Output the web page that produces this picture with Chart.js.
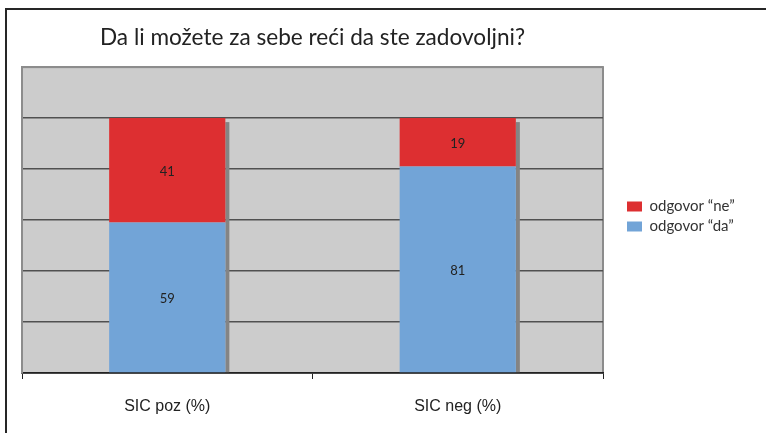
<!DOCTYPE html>
<html>
<head>
<meta charset="utf-8">
<script src="https://cdn.jsdelivr.net/npm/chart.js@4"></script>
<style>
  html, body { margin: 0; padding: 0; background: #fff; }
  #wrap { position: relative; width: 766px; height: 433px; }
  #frame { position: absolute; left: 5px; top: 8px; right: -2px; bottom: -2px; border-top: 2px solid #262626; border-left: 2px solid #262626; pointer-events: none; }
  canvas { position: absolute; left: 0; top: 0; }
</style>
</head>
<body>
<div id="wrap">
  <canvas id="c" width="766" height="433"></canvas>
  <div id="frame"></div>
</div>
<script>
const titleText = 'Da li možete za sebe reći da ste zadovoljni?';
const categories = ['SIC poz (%)', 'SIC neg (%)'];
const seriesDa = [59, 81];
const seriesNe = [41, 19];
const labelDa = 'odgovor \u201Cda\u201D';
const labelNe = 'odgovor \u201Cne\u201D';
const yMin = 0, yMax = 120, yStep = 20;

const FONT = 'Lato, "Liberation Sans", sans-serif';
const TICKFONT = '"Liberation Sans", Arial, sans-serif';

const plotFrame = {
  id: 'plotFrame',
  beforeDatasetsDraw(chart) {
    const { ctx } = chart;
    const metaBottom = chart.getDatasetMeta(0);
    const metaTop = chart.getDatasetMeta(chart.data.datasets.length - 1);
    ctx.save();
    ctx.fillStyle = '#848484';
    metaTop.data.forEach((top, i) => {
      const bot = metaBottom.data[i];
      const p = top.getProps(['x', 'y', 'width'], true);
      const b = bot.getProps(['base'], true);
      ctx.fillRect(p.x + p.width / 2, p.y + 4, 4, b.base - p.y - 4);
    });
    ctx.restore();
  },
  beforeDraw(chart) {
    const { ctx, chartArea: a } = chart;
    ctx.save();
    ctx.fillStyle = '#cccccc';
    ctx.fillRect(a.left, a.top, a.right - a.left, a.bottom - a.top);
    ctx.strokeStyle = '#8c8c8c';
    ctx.lineWidth = 2;
    ctx.strokeRect(a.left, a.top, a.right - a.left, a.bottom - a.top);
    ctx.restore();
  },
  afterDatasetsDraw(chart) {
    const { ctx } = chart;
    ctx.save();
    ctx.font = '13px ' + FONT;
    ctx.fillStyle = '#222';
    ctx.textAlign = 'center';
    ctx.textBaseline = 'middle';
    chart.data.datasets.forEach((ds, di) => {
      chart.getDatasetMeta(di).data.forEach((el, i) => {
        const c = el.getCenterPoint();
        ctx.fillText(String(ds.data[i]), c.x, c.y + 1);
      });
    });
    ctx.restore();
  }
};

new Chart(document.getElementById('c'), {
  type: 'bar',
  data: {
    labels: categories,
    datasets: [
      { label: labelDa, data: seriesDa, backgroundColor: '#72a4d7', barPercentage: 0.4, categoryPercentage: 1.0 },
      { label: labelNe, data: seriesNe, backgroundColor: '#dd2f31', barPercentage: 0.4, categoryPercentage: 1.0 }
    ]
  },
  options: {
    responsive: false,
    animation: false,
    devicePixelRatio: 1,
    layout: { padding: { left: 22, right: 24, top: 0, bottom: 0 } },
    plugins: {
      tooltip: { enabled: false },
      title: {
        display: true,
        text: titleText,
        fullSize: false,
        color: '#222',
        font: { family: FONT, size: 22.6, weight: 'normal' },
        padding: { top: 24, bottom: 16 }
      },
      legend: {
        position: 'right',
        reverse: true,
        labels: {
          boxWidth: 15,
          boxHeight: 10,
          padding: 5,
          color: '#333',
          font: { family: FONT, size: 15 }
        }
      }
    },
    scales: {
      x: {
        stacked: true,
        grid: { display: true, offset: true, drawOnChartArea: false, drawTicks: true, tickLength: 6, color: '#222', lineWidth: 1 },
        border: { display: true, color: '#222', width: 1.5 },
        ticks: { color: '#222', padding: 18, font: { family: TICKFONT, size: 16 } },
        afterFit: (s) => { s.height = 60; }
      },
      y: {
        stacked: true,
        min: yMin,
        max: yMax,
        ticks: { display: false, stepSize: yStep },
        grid: {
          drawTicks: false,
          color: (c) => (c.tick && c.tick.value === yMax) ? '#8c8c8c' : '#505050',
          lineWidth: 1.5
        },
        border: { display: true, color: '#8c8c8c', width: 2 }
      },
      gap: {
        type: 'linear',
        position: 'right',
        display: true,
        grid: { display: false, drawTicks: false },
        border: { display: false },
        ticks: { display: false },
        afterFit: (s) => { s.width = 19; }
      }
    }
  },
  plugins: [plotFrame]
});
</script>
</body>
</html>
